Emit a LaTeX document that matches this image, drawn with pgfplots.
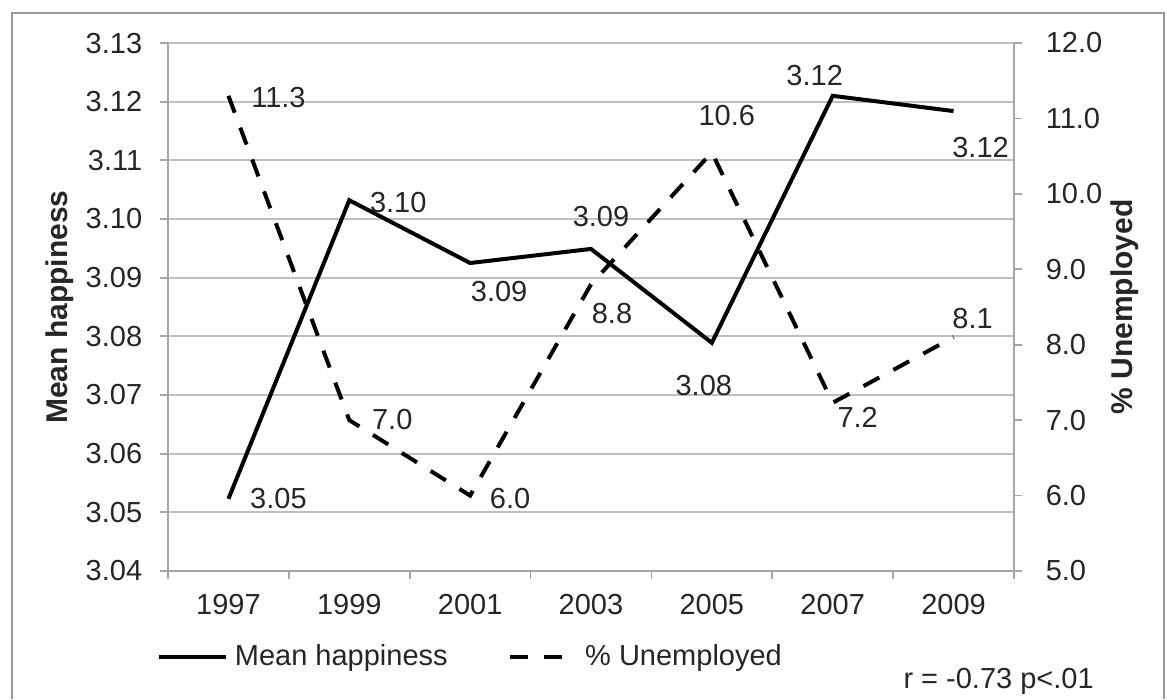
\documentclass[border=0pt]{standalone}
\usepackage{fontspec}
\setmainfont{Liberation Sans}
\usepackage{pgfplots}
\pgfplotsset{compat=1.18}
\usepackage{pgfplotstable}

\definecolor{txt}{HTML}{262626}
\definecolor{axgray}{HTML}{A6A6A6}
\definecolor{gridgray}{HTML}{BFBFBF}

% label offsets dx, dy in pt (from the point)
\pgfplotstableread{
x y lbl dx dy
0 3.0523 3.05 20 0
1 3.1032 3.10 19.6 -0.8
2 3.0925 3.09 11.6 -11.6
3 3.0949 3.09 4 12.8
4 3.0789 3.08 -3.2 -17.2
5 3.1210 3.12 -7.2 8
6 3.1184 3.12 10.8 -14.4
}\happy

\pgfplotstableread{
x y lbl dx dy
0 11.3 11.3 20 -0.8
1 7.0 7.0 17.2 0.4
2 6.0 6.0 16 -1.2
3 8.8 8.8 8.4 -11.6
4 10.55 10.6 6 14.8
5 7.23 7.2 10 -6
6 8.1 8.1 7.6 7.6
}\unemp

\pgfplotsset{
  common/.style={
    width=338.4pt, height=211.2pt, scale only axis,
    at={(67.2pt,51.2pt)}, anchor=south west,
    xmin=-0.5, xmax=6.5,
    tick align=outside, major tick length=3.2pt, minor tick length=3.2pt,
    axis line style={axgray, line width=0.7pt, -},
    tick style={axgray, line width=0.7pt},
    /pgf/number format/assume math mode=true,
    ticklabel style={font=\fontsize{11.6}{14}\selectfont, text=txt},
    label style={font=\fontsize{12}{14}\selectfont\bfseries, text=txt},
  },
  lbls/.style={
    nodes near coords, point meta=explicit symbolic,
    visualization depends on={\thisrow{dx}\as\dx},
    visualization depends on={\thisrow{dy}\as\dy},
    every node near coord/.append style={anchor=center, xshift=\dx pt, yshift=\dy pt,
      inner sep=0pt, font=\fontsize{11.6}{14}\selectfont, text=txt},
  },
}

\begin{document}
\begin{tikzpicture}[font=\fontsize{11.6}{14}\selectfont, text=txt]
\useasboundingbox (0,0) rectangle (466.8pt,279.6pt);
\draw[gray!80, line width=0.8pt] (4.8pt,0) -- (4.8pt,274.4pt) -- (465.6pt,274.4pt) -- (465.6pt,0);

\begin{axis}[common,
  axis x line*=bottom, axis y line*=left,
  ymin=3.04, ymax=3.13,
  ytick={3.04,3.05,3.06,3.07,3.08,3.09,3.10,3.11,3.12,3.13},
  yticklabel style={/pgf/number format/.cd, fixed, fixed zerofill, precision=2, /tikz/.cd, xshift=-3.6pt},
  xticklabel style={yshift=-2.4pt},
  ymajorgrids, grid style={gridgray, line width=0.7pt},
  xtick={0,...,6}, xticklabels={1997,1999,2001,2003,2005,2007,2009},
  major x tick style={draw=none},
  minor xtick={-0.5,0.5,1.5,2.5,3.5,4.5,5.5,6.5},
  ylabel={Mean happiness},
  ylabel style={at={(axis description cs:-0.1277,0.5)}, anchor=center},
  legend columns=2,
  legend style={at={(axis description cs:-0.0125,-0.1629)}, anchor=west,
    draw=none, fill=none, inner sep=0pt, outer sep=0pt,
    nodes={inner sep=0pt, text=txt}, column sep=2.6pt,
    /tikz/every even column/.append style={column sep=24pt}},
  legend image code/.code={\draw[#1] (0pt,0pt) -- (26.8pt,0pt);},
]
\addplot[black, line width=1.6pt, lbls] table[x=x, y=y, meta=lbl]{\happy};
\addlegendentry{Mean happiness}
\addlegendimage{black, line width=1.6pt, dash pattern=on 7.2pt off 6.4pt}
\addlegendentry{\% Unemployed}
\end{axis}

\begin{axis}[common,
  axis y line*=right, axis x line=none,
  ymin=5, ymax=12, ytick={5,6,7,8,9,10,11,12},
  yticklabel style={/pgf/number format/.cd, fixed, fixed zerofill, precision=1, /tikz/.cd, xshift=6pt},
  ylabel={\% Unemployed},
  ylabel style={at={(axis description cs:1.1305,0.5)}, anchor=center},
]
\addplot[black, line width=1.6pt, dash pattern=on 7.2pt off 6.4pt, lbls] table[x=x, y=y, meta=lbl]{\unemp};
\end{axis}

\node[anchor=west, inner sep=0pt] at (361.2pt,7.2pt) {r = -0.73 p<.01};
\end{tikzpicture}
\end{document}
